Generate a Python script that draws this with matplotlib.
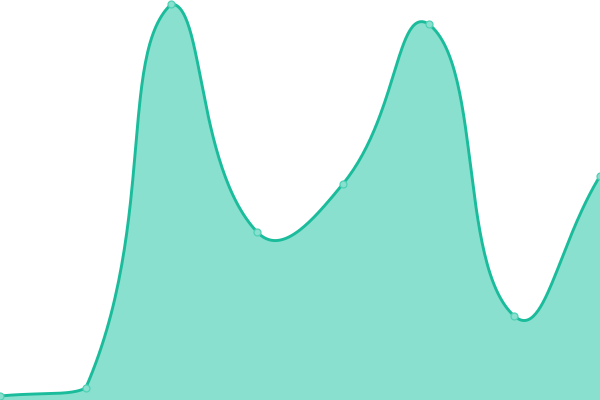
import numpy as np
import matplotlib.pyplot as plt

# series values (y axis 0..100), one per category
categories = ["A", "B", "C", "D", "E", "F", "G", "H"]
values = [1, 3, 99, 42, 54, 94, 21, 56]

LINE_COLOR = "#1abc9c"
FILL_COLOR = "#8ae0cf"

W, H = 600, 400
YMAX = 100


def smooth_curve(px, py, smooth=0.5, steps=60):
    """Bezier smoothing in pixel space, control points kept inside the data box."""
    n = len(px)
    pts = np.column_stack((px, py))
    lo = pts.min(axis=0)
    hi = pts.max(axis=0)
    cp_prev = pts.copy()
    cp_next = pts.copy()
    for i in range(n):
        prev = pts[i - 1] if i > 0 else pts[i]
        nxt = pts[i + 1] if i < n - 1 else pts[i]
        v = nxt - prev
        len_prev = np.hypot(*(pts[i] - prev))
        len_next = np.hypot(*(nxt - pts[i]))
        tot = len_prev + len_next
        ratio = len_next / tot if tot > 0 else 0.5
        cp_next[i] = np.clip(pts[i] + v * smooth * ratio, lo, hi)
        cp_prev[i] = np.clip(pts[i] - v * smooth * (1 - ratio), lo, hi)
    t = np.linspace(0, 1, steps)[:, None]
    out = []
    for i in range(n - 1):
        p0, p1, p2, p3 = pts[i], cp_next[i], cp_prev[i + 1], pts[i + 1]
        seg = ((1 - t) ** 3) * p0 + 3 * ((1 - t) ** 2) * t * p1 \
            + 3 * (1 - t) * t ** 2 * p2 + t ** 3 * p3
        out.append(seg if i == 0 else seg[1:])
    out = np.vstack(out)
    return out[:, 0], out[:, 1]


x = np.arange(len(categories))
n_seg = len(categories) - 1
px = x * W / n_seg
py = np.array(values, dtype=float) * H / YMAX

sx, sy = smooth_curve(px, py)
cx = sx * n_seg / W
cy = sy * YMAX / H

fig = plt.figure(figsize=(6, 4), dpi=100)
ax = fig.add_axes([0, 0, 1, 1])
ax.fill_between(cx, 0, cy, color=FILL_COLOR, linewidth=0)
ax.plot(cx, cy, color=LINE_COLOR, linewidth=2.1, solid_capstyle="round")
ax.plot(x, values, linestyle="none", marker="o", markersize=5,
        markerfacecolor=FILL_COLOR, markeredgecolor="#4fd1b5",
        markeredgewidth=0.9, zorder=3)
ax.set_xlim(0, n_seg)
ax.set_ylim(0, YMAX)
ax.axis("off")

fig.savefig("out.png", dpi=100)
